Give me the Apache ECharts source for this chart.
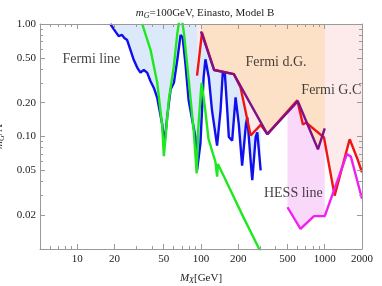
<!DOCTYPE html>
<html><head><meta charset="utf-8">
<script src="https://cdn.jsdelivr.net/npm/echarts@6/dist/echarts.min.js"></script>
<style>html,body{margin:0;padding:0;background:#fff}#c{width:382px;height:286px}</style>
</head><body><div id="c"></div>
<script>
// Tick values
const xTicks = [10, 20, 50, 100, 200, 500, 1000, 2000];
const xMinorTicks = [6, 7, 8, 9, 30, 40, 60, 70, 80, 90, 300, 400, 600, 700, 800, 900];
const yTicks = [0.02, 0.05, 0.1, 0.2, 0.5, 1];
const yMinorTicks = [0.03, 0.04, 0.06, 0.07, 0.08, 0.09, 0.3, 0.4, 0.6, 0.7, 0.8, 0.9];

// Fermi line (blue)
const fermiLineX = [18.5, 20.3, 21.6, 23.0, 24.0, 25.3, 26.9, 28.6, 30.5, 32.4, 34.5, 36.7, 39.1, 41.6, 44.3, 48.6, 50.7, 53.4, 56.8, 60.4, 64.4, 68.4, 71.1, 75.2, 79.4, 90.1, 92.9, 98.9, 105, 108.6, 115.6, 122.8, 134.9, 143.8, 150, 155.7, 162.5, 167.8, 178.6, 190.3, 196, 202, 215, 230.7, 236.6, 251.9, 259.6, 276.6, 285, 303.5];
const fermiLineY = [1.0, 0.86, 0.78, 0.80, 0.75, 0.72, 0.59, 0.48, 0.41, 0.37, 0.39, 0.37, 0.31, 0.27, 0.22, 0.128, 0.085, 0.152, 0.262, 0.30, 0.483, 0.80, 0.76, 0.42, 0.21, 0.099, 0.050, 0.086, 0.335, 0.486, 0.335, 0.17, 0.083, 0.17, 0.37, 0.37, 0.18, 0.099, 0.092, 0.223, 0.223, 0.129, 0.055, 0.128, 0.148, 0.061, 0.041, 0.099, 0.109, 0.050];

// Green curve
const greenX = [33.5, 39.1, 44.3, 48.6, 50.1, 55, 60.3, 64.4, 67, 70, 72.8, 80, 87.5, 92.3, 95, 100, 101.2, 108, 115, 131, 135, 137, 174, 217, 253, 290, 300];
const greenY = [1.0, 0.59, 0.30, 0.124, 0.067, 0.214, 0.42, 0.83, 1.1, 1.1, 0.83, 0.30, 0.109, 0.047, 0.116, 0.26, 0.30, 0.175, 0.095, 0.059, 0.044, 0.057, 0.033, 0.0198, 0.0141, 0.0104, 0.0095];

// Fermi G.C (red)
const fermiGCX = [92.9, 101.9, 127.7, 184.4, 208.8, 251.9, 303.5, 343.6, 600, 666, 708, 986, 1202, 1590, 1861, 2000];
const fermiGCY = [0.347, 0.84, 0.39, 0.358, 0.273, 0.102, 0.127, 0.105, 0.21, 0.128, 0.133, 0.098, 0.0298, 0.0946, 0.0608, 0.048];

// Fermi d.G. (purple)
const fermiDGX = [100, 127.7, 184.4, 343.6, 606, 881, 1000];
const fermiDGY = [0.86, 0.39, 0.358, 0.105, 0.206, 0.077, 0.118];

// HESS line (magenta)
const hessX = [500, 637, 818, 1000, 1510, 1626, 2000];
const hessY = [0.0235, 0.0151, 0.0196, 0.0196, 0.0697, 0.0663, 0.028];

// Region labels
const noteText = ['Fermi line', 'Fermi d.G.', 'Fermi G.C', 'HESS line'];
const noteX = [13, 404, 1130, 557];
const noteY = [0.49, 0.452, 0.258, 0.0313];

const pairs = (xs, ys) => xs.map((x, i) => [x, ys[i]]);
const SERIF = '"Liberation Serif", "DejaVu Serif", serif';
const FRAME = '#9a9a9a';
const TXT = '#222';

function xAx(pos, ticks, len, labels, line) {
  return {
    type: 'log', logBase: 10, min: 5, max: 2000, position: pos, z: 10,
    splitLine: { show: false },
    axisLine: { show: line, lineStyle: { color: FRAME, width: 1 } },
    axisTick: { show: true, inside: true, length: len, customValues: ticks, lineStyle: { color: FRAME } },
    axisLabel: labels ? { show: true, customValues: ticks, margin: 5, color: TXT, fontFamily: SERIF, fontSize: 11,
      formatter: v => String(Math.round(v)) } : { show: false }
  };
}
function yAx(pos, ticks, len, labels, line) {
  return {
    type: 'log', logBase: 10, min: 0.01, max: 1, position: pos, z: 10,
    splitLine: { show: false },
    axisLine: { show: line, lineStyle: { color: FRAME, width: 1 } },
    axisTick: { show: true, inside: true, length: len, customValues: ticks, lineStyle: { color: FRAME } },
    axisLabel: labels ? { show: true, customValues: ticks, margin: 4, color: TXT, fontFamily: SERIF, fontSize: 11,
      formatter: v => (Math.round(v * 100) / 100).toFixed(2) } : { show: false }
  };
}

const xAxes = [
  xAx('bottom', xTicks, 5, true, true),
  xAx('bottom', xMinorTicks, 3, false, false),
  xAx('top', xTicks, 5, false, true),
  xAx('top', xMinorTicks, 3, false, false)
];
Object.assign(xAxes[0], {
  name: '{i|M}{s|X}[GeV]', nameLocation: 'middle', nameGap: 23,
  nameTextStyle: { color: TXT, fontFamily: SERIF, fontSize: 11,
    rich: { i: { fontStyle: 'italic', fontFamily: SERIF, fontSize: 11, color: TXT },
            s: { fontStyle: 'italic', fontFamily: SERIF, fontSize: 8, color: TXT, padding: [5, 0, 0, 0] } } }
});
const yAxes = [
  yAx('left', yTicks, 5, true, true),
  yAx('left', yMinorTicks, 3, false, false),
  yAx('right', yTicks, 5, false, true),
  yAx('right', yMinorTicks, 3, false, false)
];
Object.assign(yAxes[0], {
  name: '{i|m}{s|G}/Λ', nameLocation: 'middle', nameGap: 31, nameRotate: 90,
  nameTextStyle: { color: TXT, fontFamily: SERIF, fontSize: 11,
    rich: { i: { fontStyle: 'italic', fontFamily: SERIF, fontSize: 11, color: TXT },
            s: { fontStyle: 'italic', fontFamily: SERIF, fontSize: 8, color: TXT, padding: [5, 0, 0, 0] } } }
});

function fill(data, color, z) {
  return { type: 'line', data, symbol: 'none', silent: true, z,
    lineStyle: { width: 0, opacity: 0 }, areaStyle: { origin: 'end', color, opacity: 1 } };
}
function curve(data, color, z) {
  return { type: 'line', data, symbol: 'none', silent: true, z,
    lineStyle: { width: 2.4, color } };
}

const hessFillX = hessX.filter(x => x <= 1000);
const hessFillY = hessY.slice(0, hessFillX.length);

const chart = echarts.init(document.getElementById('c'), null, { renderer: 'canvas' });
chart.setOption({
  animation: false,
  backgroundColor: '#fff',
  title: {
    text: '{i|m}{s|G}=100GeV, Einasto, Model B', left: 200, top: 2, textAlign: 'center',
    textStyle: { color: TXT, fontFamily: SERIF, fontSize: 11, fontWeight: 'normal',
      rich: { i: { fontStyle: 'italic', fontFamily: SERIF, fontSize: 11, color: TXT },
              s: { fontStyle: 'italic', fontFamily: SERIF, fontSize: 8, color: TXT, padding: [5, 0, 0, 0] } } }
  },
  grid: { left: 40, right: 20, top: 24, bottom: 37, show: false, outerBoundsMode: 'none', containLabel: false },
  xAxis: xAxes,
  yAxis: yAxes,
  series: [
    fill(pairs(fermiLineX, fermiLineY), '#dbe9fa', 1),
    fill(pairs(fermiGCX, fermiGCY), '#fdeaea', 1),
    fill(pairs(hessFillX, hessFillY), '#f9d8f9', 1),
    fill(pairs(fermiDGX, fermiDGY), '#fde1c7', 1),
    curve(pairs(fermiLineX, fermiLineY), '#1010ee', 3),
    curve(pairs(greenX, greenY), '#1ee81e', 3),
    curve(pairs(fermiGCX, fermiGCY), '#f01414', 3),
    curve(pairs(fermiDGX, fermiDGY), '#80108a', 3),
    curve(pairs(hessX, hessY), '#f020f0', 3),
    {
      type: 'scatter', symbolSize: 0, silent: true, z: 4,
      data: noteText.map((t, i) => ({ name: t, value: [noteX[i], noteY[i]] })),
      label: { show: true, position: 'inside', formatter: p => p.name, color: '#111', fontFamily: SERIF, fontSize: 14 }
    }
  ]
});
</script></body></html>
